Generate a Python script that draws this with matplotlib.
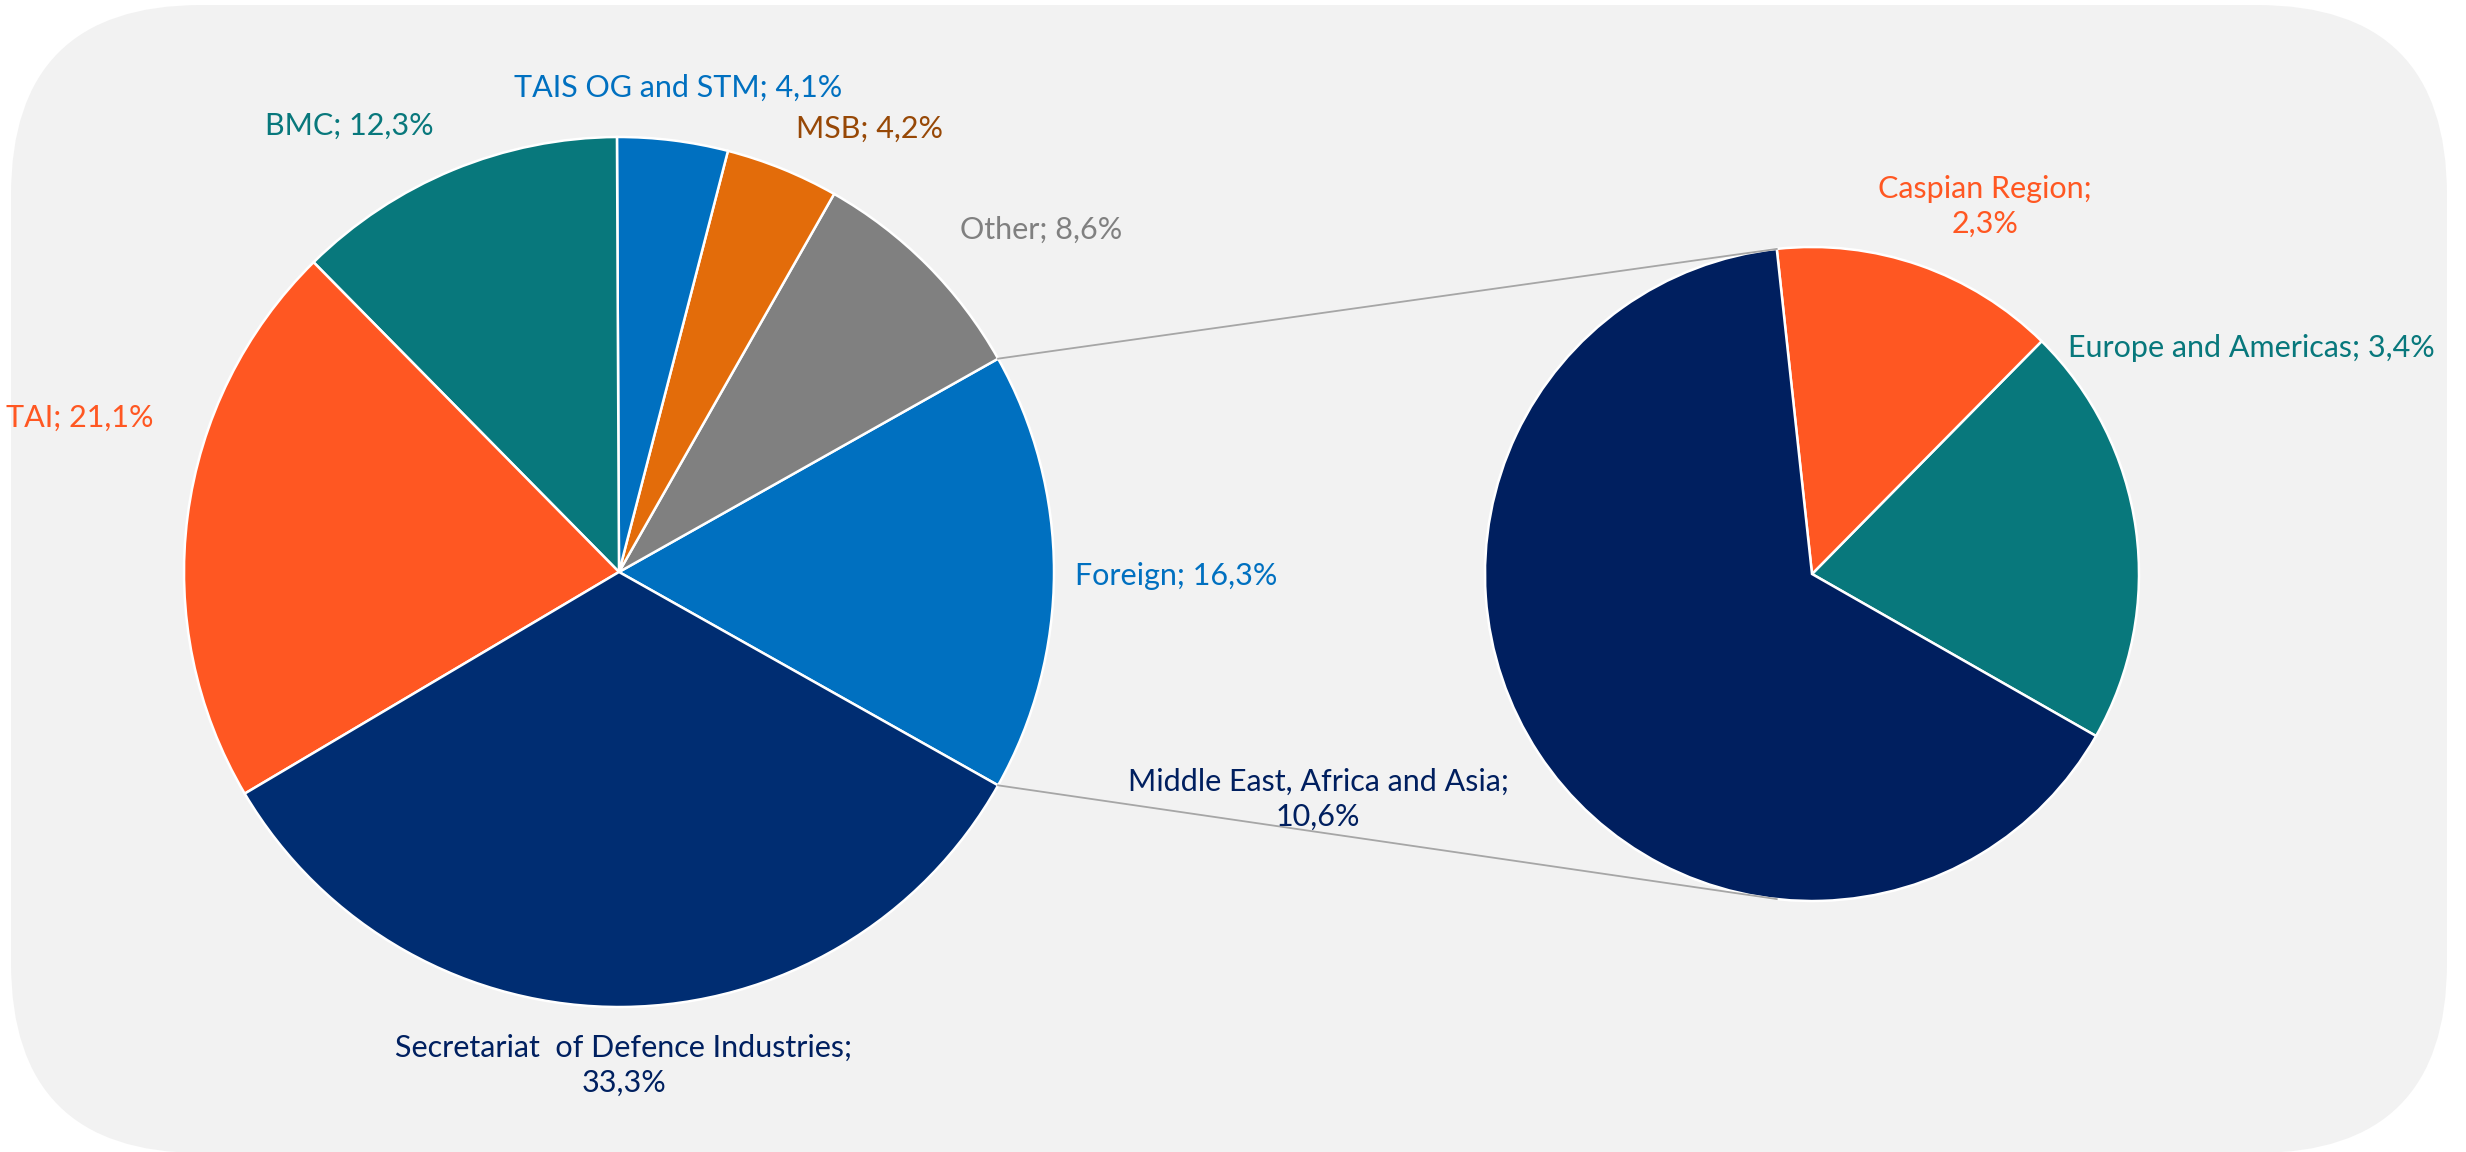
import matplotlib.pyplot as plt
import numpy as np
from matplotlib.patches import FancyBboxPatch

plt.rcParams['font.family'] = ['Lato', 'DejaVu Sans']

# main pie, counter-clockwise from the split slice
main_labels = ["Foreign", "Other", "MSB", "TAIS OG and STM", "BMC", "TAI",
               "Secretariat  of Defence Industries"]
main_values = [16.3, 8.6, 4.2, 4.1, 12.3, 21.1, 33.3]
main_colors = ['#0070C0', '#808080', '#E36C0A', '#0070C0', '#08787C', '#FF5722', '#002D72']
main_text_colors = ['#0070C0', '#808080', '#974806', '#0070C0', '#08787C', '#FF5722', '#002060']

# secondary pie (breakdown of Foreign)
sub_labels = ["Europe and Americas", "Caspian Region", "Middle East, Africa and Asia"]
sub_values = [3.4, 2.3, 10.6]
sub_colors = ['#08787C', '#FF5722', '#001F5F']
sub_text_colors = ['#08787C', '#FF5722', '#001F5F']

# layout (pixels, y up)
W, H = 2466, 1152
c1, r1 = (619, 580), 435
c2, r2 = (1812, 578), 327
main_label_pos = [(1176, 576), (1041, 922), (870, 1023), (678, 1064),
                  (349, 1026), (80, 734), (624, 87)]
main_label_fmt = ["{}; {}", "{}; {}", "{}; {}", "{}; {}", "{}; {}", "{}; {}", "{};\n{}"]
sub_label_pos = [(2251, 804), (1985, 946), (1318, 353)]
sub_label_fmt = ["{}; {}", "{};\n{}", "{};\n{}"]


def pct(v):
    return ("%.1f%%" % v).replace(".", ",")


fig = plt.figure(figsize=(W / 100, H / 100), dpi=100)
ax = fig.add_axes([0, 0, 1, 1])

bg = FancyBboxPatch((11, -1), 2436, 1148, boxstyle="round,pad=0,rounding_size=190",
                    facecolor='#F2F2F2', edgecolor='none', zorder=0)
ax.add_patch(bg)

tot = sum(main_values)
start1 = -main_values[0] / tot * 360 / 2
ax.pie(main_values, colors=main_colors, startangle=start1, counterclock=True,
       center=c1, radius=r1, normalize=True,
       wedgeprops=dict(edgecolor='white', linewidth=1.8))

start2 = -29.7
ax.pie(sub_values, colors=sub_colors, startangle=start2, counterclock=True,
       center=c2, radius=r2, normalize=True,
       wedgeprops=dict(edgecolor='white', linewidth=1.8))

# connector lines
a_top = np.deg2rad(-start1)
split = start2 + (sub_values[0] + sub_values[1]) / sum(sub_values) * 360
a2 = np.deg2rad(split)
for s in (1, -1):
    x0 = c1[0] + r1 * np.cos(a_top)
    y0 = c1[1] + s * r1 * np.sin(a_top)
    x1 = c2[0] + r2 * np.cos(a2)
    y1 = c2[1] + s * r2 * np.sin(a2)
    ax.plot([x0, x1], [y0, y1], color='#A6A6A6', lw=1.3, zorder=1)

for lab, v, col, pos, fmt in zip(main_labels, main_values, main_text_colors,
                                 main_label_pos, main_label_fmt):
    ax.text(pos[0], pos[1], fmt.format(lab, pct(v)), color=col, fontsize=22,
            ha='center', va='center', linespacing=1.3)

for lab, v, col, pos, fmt in zip(sub_labels, sub_values, sub_text_colors,
                                 sub_label_pos, sub_label_fmt):
    ax.text(pos[0], pos[1], fmt.format(lab, pct(v)), color=col, fontsize=22,
            ha='center', va='center', linespacing=1.3)

ax.set_xlim(0, W)
ax.set_ylim(0, H)
ax.set_aspect('equal')
ax.axis('off')

fig.savefig('out.png', dpi=100, facecolor='white')
